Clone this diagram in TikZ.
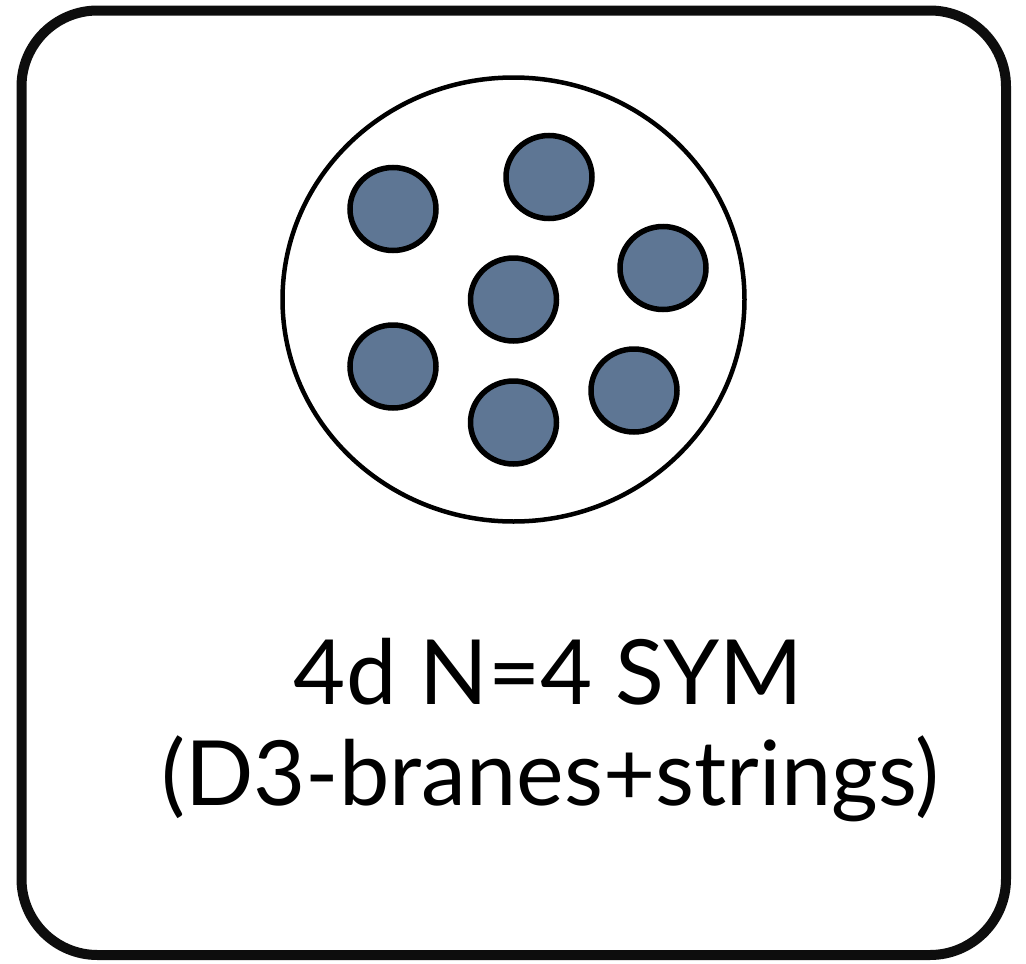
\documentclass[tikz,border=0pt]{standalone}
\usepackage{fontspec}
\setmainfont{Lato}
\definecolor{brane}{RGB}{94,118,148}
\begin{document}
\begin{tikzpicture}[x=1pt,y=-1pt,
  frame/.style={draw=black!95,line width=10pt,rounded corners=76pt},
  bulk/.style={draw=black,line width=4.5pt,fill=white},
  dbrane/.style={draw=black,line width=5.5pt,fill=brane},
  lbl/.style={font=\fontsize{90}{101}\selectfont,anchor=base,inner sep=0pt}]
\useasboundingbox (0,0) rectangle (1026,964);
\draw[frame] (21.5,10.5) rectangle (1006,955);
\coordinate (bulk) at (513.5,299.5);
\draw[bulk] (bulk) ellipse [x radius=231, y radius=222];
\foreach \n/\x/\y in {a/393/209, b/549/177, c/663/268, d/513.5/299.5, e/393/366.5, f/634/390.5, g/513.5/422.5}{
  \coordinate (\n) at (\x,\y);
  \draw[dbrane] (\n) ellipse [x radius=43, y radius=41.5];
}
\node[lbl] (t1) at (548.5,704) {4d N=4 SYM};
\node[lbl] (t2) at (550,805) {(D3-branes+strings)};
\end{tikzpicture}
\end{document}
